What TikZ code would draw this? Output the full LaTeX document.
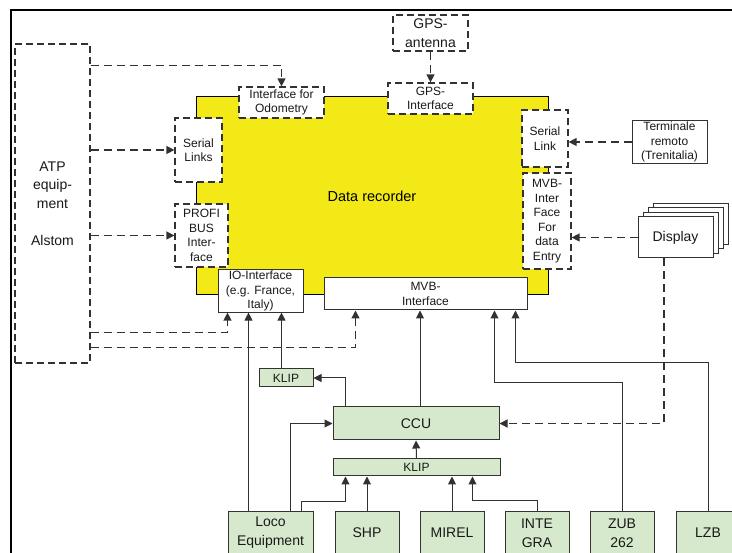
\documentclass[tikz,border=0pt]{standalone}
\usepackage{fontspec}
\setmainfont{Liberation Sans}
\usetikzlibrary{arrows.meta,calc}
\definecolor{recyellow}{RGB}{242,233,22}
\definecolor{unitgreen}{RGB}{214,233,204}
\definecolor{linegray}{RGB}{50,50,50}
\tikzset{
  frame/.style={line width=1.6pt, draw=black},
  plain/.style={
    rectangle,
    draw=linegray,
    line width=1pt,
    fill=white,
    inner sep=1pt,
    align=center,
    text=black!90,
    font=\fontsize{12}{14.5}\selectfont
  },
  dashbox/.style={plain, line width=1.2pt, dash pattern=on 7pt off 4pt},
  unit/.style={plain, fill=unitgreen, font=\fontsize{14}{19}\selectfont},
  recorder/.style={
    rectangle,
    draw=black,
    line width=1pt,
    fill=recyellow,
    font=\fontsize{14.5}{17}\selectfont
  },
  flow/.style={
    draw=linegray,
    line width=1pt,
    -{Triangle[length=8pt,width=8pt]}
  },
  dflow/.style={flow, line width=1.3pt, dash pattern=on 8pt off 5pt}
}
\newcommand{\bigtext}{\fontsize{14}{18.5}\selectfont}

\begin{document}
\begin{tikzpicture}[x=1pt,y=-1pt]
  \useasboundingbox (0,0) rectangle (732,553);
  \draw[frame] (11,570) -- (11,10) -- (750,10);

  \node[dashbox, minimum width=75pt, minimum height=319pt, font=\bigtext] (atp) at (52.5,203.5)
    {ATP\\equip-\\ment\\[18.5pt]Alstom};
  \node[recorder, minimum width=352pt, minimum height=198pt] (rec) at (372,196) {Data recorder};

  \node[dashbox, minimum width=85pt, minimum height=31pt] (odo) at (281.5,102.5) {Interface for\\Odometry};
  \node[dashbox, minimum width=47pt, minimum height=64pt] (sl) at (198.5,150) {Serial\\Links};
  \node[dashbox, minimum width=53pt, minimum height=63pt] (pb) at (201.5,235.5) {PROFI\\BUS\\Inter-\\face};
  \node[plain, minimum width=85pt, minimum height=40pt] (io) at (260.5,291) {IO-Interface\\(e.g. France,\\Italy)};
  \node[plain, minimum width=203pt, minimum height=32pt] (mvb) at (425.5,294) {MVB-\\Interface};
  \node[dashbox, minimum width=75pt, minimum height=36pt, font=\bigtext] (gps) at (430.5,33) {GPS-\\antenna};
  \node[dashbox, minimum width=85pt, minimum height=31pt] (gpsif) at (430.5,98.5) {GPS-\\Interface};
  \node[dashbox, minimum width=46pt, minimum height=57pt] (slink) at (545,138.5) {Serial\\Link};
  \node[dashbox, minimum width=48pt, minimum height=96pt] (dent) at (547,221)
    {MVB-\\Inter\\Face\\For\\data\\Entry};
  \node[plain, minimum width=75pt, minimum height=42pt] (term) at (669.5,142)
    {Terminale\\remoto\\(Trenitalia)};
  \foreach \k in {3,2,1} {
    \node[plain, minimum width=75pt, minimum height=41pt] at (675.5+5*\k,237.5-4.5*\k) {};
  }
  \node[plain, minimum width=75pt, minimum height=41pt, font=\bigtext] (disp) at (675.5,237.5) {Display};

  \node[unit, minimum width=54pt, minimum height=18pt, font=\fontsize{12}{14}\selectfont] (klipa) at (286,378) {KLIP};
  \node[unit, minimum width=166pt, minimum height=33pt] (ccu) at (416,423.5) {CCU};
  \node[unit, minimum width=167pt, minimum height=17pt, font=\fontsize{12}{14}\selectfont] (klipb) at (416.5,467.5) {KLIP};
  \node[unit, minimum width=85pt, minimum height=42pt] (loco) at (270.5,533) {Loco\\Equipment};
  \node[unit, minimum width=64pt, minimum height=42pt] (shp) at (367,533) {SHP};
  \node[unit, minimum width=64pt, minimum height=42pt] (mirel) at (452,533) {MIREL};
  \node[unit, minimum width=64pt, minimum height=42pt] (integra) at (537,533) {INTE\\GRA};
  \node[unit, minimum width=64pt, minimum height=42pt] (zub) at (622,533) {ZUB\\262};
  \node[unit, minimum width=64pt, minimum height=42pt] (lzb) at (708,533) {LZB};

  \draw[dflow] ([yshift=-22pt]atp.north east) -| (odo.north);
  \draw[dflow] (sl.west -| atp.east) -- (sl.west);
  \draw[dflow] (pb.west -| atp.east) -- (pb.west);
  \draw[dflow] ([yshift=31pt]atp.south east) -| ([xshift=10pt]io.south west);
  \draw[dflow] ([yshift=16pt]atp.south east) -| ([xshift=32pt]mvb.south west);
  \draw[dflow] (gps.south) -- (gpsif.north);
  \draw[dflow] (term.west) -- (term.west -| slink.east);
  \draw[dflow] (disp.west) -- (disp.west -| dent.east);
  \draw[dflow] ([xshift=-11.5pt]disp.south) |- (ccu.east);

  \draw[flow] ([xshift=21pt]loco.north west) -- ([xshift=31pt]io.south west);
  \draw[flow] ([xshift=63pt]loco.north west) |- (ccu.west);
  \draw[flow] ([xshift=74pt]loco.north west) -- ++(0,-10) -| ([xshift=13pt]klipb.south west);
  \draw[flow] ([xshift=23pt]klipa.north west) -- ([xshift=64pt]io.south west);
  \draw[flow] ([xshift=13pt]ccu.north west) |- (klipa.east);
  \draw[flow] (klipb.north) -- (ccu.south);
  \draw[flow] ([xshift=4pt]ccu.north) -- ([xshift=4pt]ccu.north |- mvb.south);
  \draw[flow] (shp.north) -- (shp.north |- klipb.south);
  \draw[flow] (mirel.north) -- (mirel.north |- klipb.south);
  \draw[flow] (integra.north) -- ++(0,-11) -| ([xshift=140pt]klipb.south west);
  \draw[flow] (zub.north) -- ++(0,-129) -| ([xshift=171pt]mvb.south west);
  \draw[flow] (lzb.north) -- ++(0,-149) -| ([xshift=192pt]mvb.south west);
\end{tikzpicture}
\end{document}
